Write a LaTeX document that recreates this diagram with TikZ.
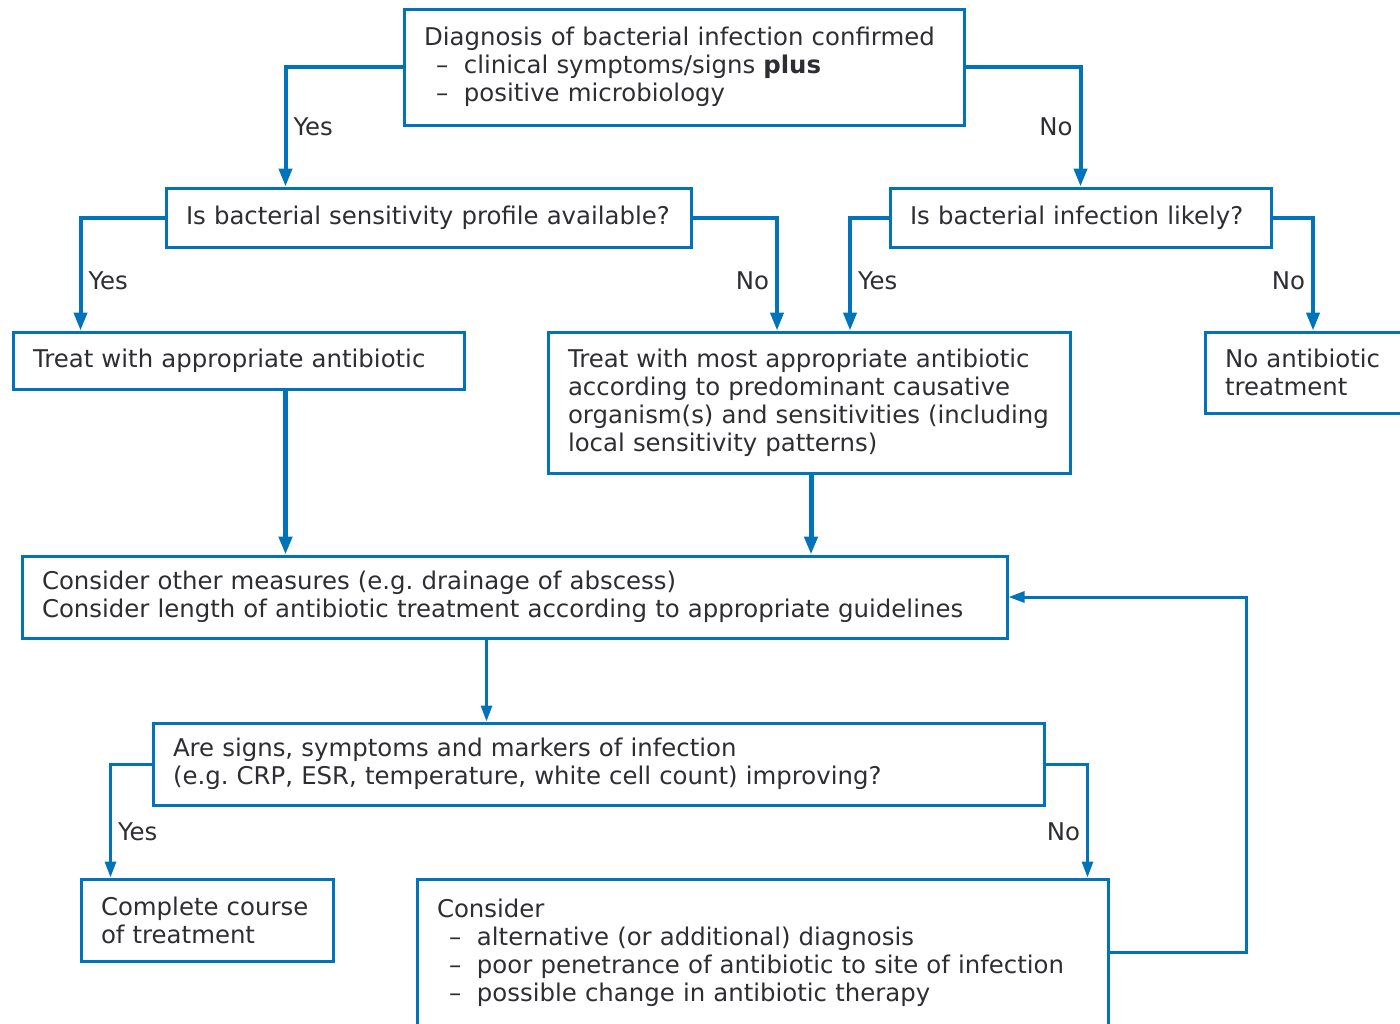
\documentclass[tikz,border=0pt]{standalone}
\usepackage{fontspec}
\setmainfont{DejaVu Sans}
\frenchspacing
\usetikzlibrary{positioning,calc,arrows.meta}
\definecolor{flowblue}{RGB}{0,115,187}
\definecolor{flowtext}{RGB}{45,45,50}
\newcommand\dashline{\hspace*{6pt}\makebox[14pt][l]{--}}

\tikzset{
  box/.style={draw=flowblue, line width=1.5pt, inner xsep=10pt, inner ysep=0pt,
    align=left, text=flowtext, font=\fontsize{12.2}{14}\selectfont},
  flow/.style={draw=flowblue, line width=2pt, -{Triangle[length=9pt,width=6.5pt]}},
  flowthick/.style={flow, line width=2.5pt},
  flowthin/.style={draw=flowblue, line width=1.5pt, -{Triangle[length=8pt,width=5.5pt]}},
  lbl/.style={text=flowtext, font=\fontsize{12.2}{14}\selectfont, inner sep=3pt}
}

\begin{document}
\begin{tikzpicture}[x=0.5pt,y=-0.5pt]
\useasboundingbox (0,0) rectangle (1400,1023);
\clip (0,0) rectangle (1400,1023);

% boxes
\node[box, text width=260pt, minimum height=58pt] (diag) at (684,67)
  {Diagnosis of bacterial infection confirmed\\
   \dashline clinical symptoms/signs \textbf{plus}\\
   \dashline positive microbiology};
\node[box, text width=242.5pt, minimum height=29.5pt] (sens) at (428.5,217.5)
  {Is bacterial sensitivity profile available?};
\node[box, text width=170.5pt, minimum height=29.5pt] (likely) at (1080.5,217.5)
  {Is bacterial infection likely?};
\node[box, text width=205.5pt, minimum height=28.5pt] (treat) at (238.5,360.5)
  {Treat with appropriate antibiotic};
\node[box, text width=241pt, minimum height=70.5pt] (treatmost) at (809,402.5)
  {Treat with most appropriate antibiotic\\
   according to predominant causative\\
   organism(s) and sensitivities (including\\
   local sensitivity patterns)};
\node[box, text width=88pt, minimum height=40.5pt] (noanti) at (1313,372.5)
  {No antibiotic\\treatment};
\node[box, text width=472.5pt, minimum height=41pt] (measures) at (514.5,597)
  {Consider other measures (e.g. drainage of abscess)\\
   Consider length of antibiotic treatment according to appropriate guidelines};
\node[box, text width=425.5pt, minimum height=41pt] (improve) at (598.5,764)
  {Are signs, symptoms and markers of infection\\
   (e.g. CRP, ESR, temperature, white cell count) improving?};
\node[box, text width=106pt, minimum height=41pt] (complete) at (207,920)
  {Complete course\\of treatment};
\node[box, text width=325.5pt, minimum height=73.5pt] (reconsider) at (762.5,952.5)
  {Consider\\
   \dashline alternative (or additional) diagnosis\\
   \dashline poor penetrance of antibiotic to site of infection\\
   \dashline possible change in antibiotic therapy};

% connectors
\draw[flow] (diag.west) -| node[lbl, right, pos=0.75] {Yes} ($(sens.north west)+(121,0)$);
\draw[flow] (diag.east) -| node[lbl, left, pos=0.75] {No} (likely.north);
\draw[flow] (sens.west) -| node[lbl, right, pos=0.78] {Yes} ($(treat.north west)+(69,0)$);
\draw[flow] (sens.east) -| node[lbl, left, pos=0.78] {No} ($(treatmost.north)+(-32,0)$);
\draw[flow] (likely.west) -| node[lbl, right, pos=0.78] {Yes} ($(treatmost.north)+(41,0)$);
\draw[flow] (likely.east) -| node[lbl, left, pos=0.78] {No} (noanti.north);
\draw[flowthick] ($(treat.south west)+(274,0)$) coordinate (t) -- (t |- measures.north);
\draw[flowthick] ($(treatmost.south)+(2,0)$) coordinate (e) -- (e |- measures.north);
\draw[flowthin] ($(measures.south west)+(466,0)$) coordinate (m) -- (m |- improve.north);
\draw[flowthin] (improve.west) -| node[lbl, right, pos=0.8] {Yes} ($(complete.north west)+(31,0)$);
\draw[flowthin] (improve.east) -| node[lbl, left, pos=0.8] {No} ($(reconsider.north east)+(-22,0)$);
\draw[flowthin] (reconsider.east) -- ++(137,0) |- (measures.east);
\end{tikzpicture}
\end{document}
